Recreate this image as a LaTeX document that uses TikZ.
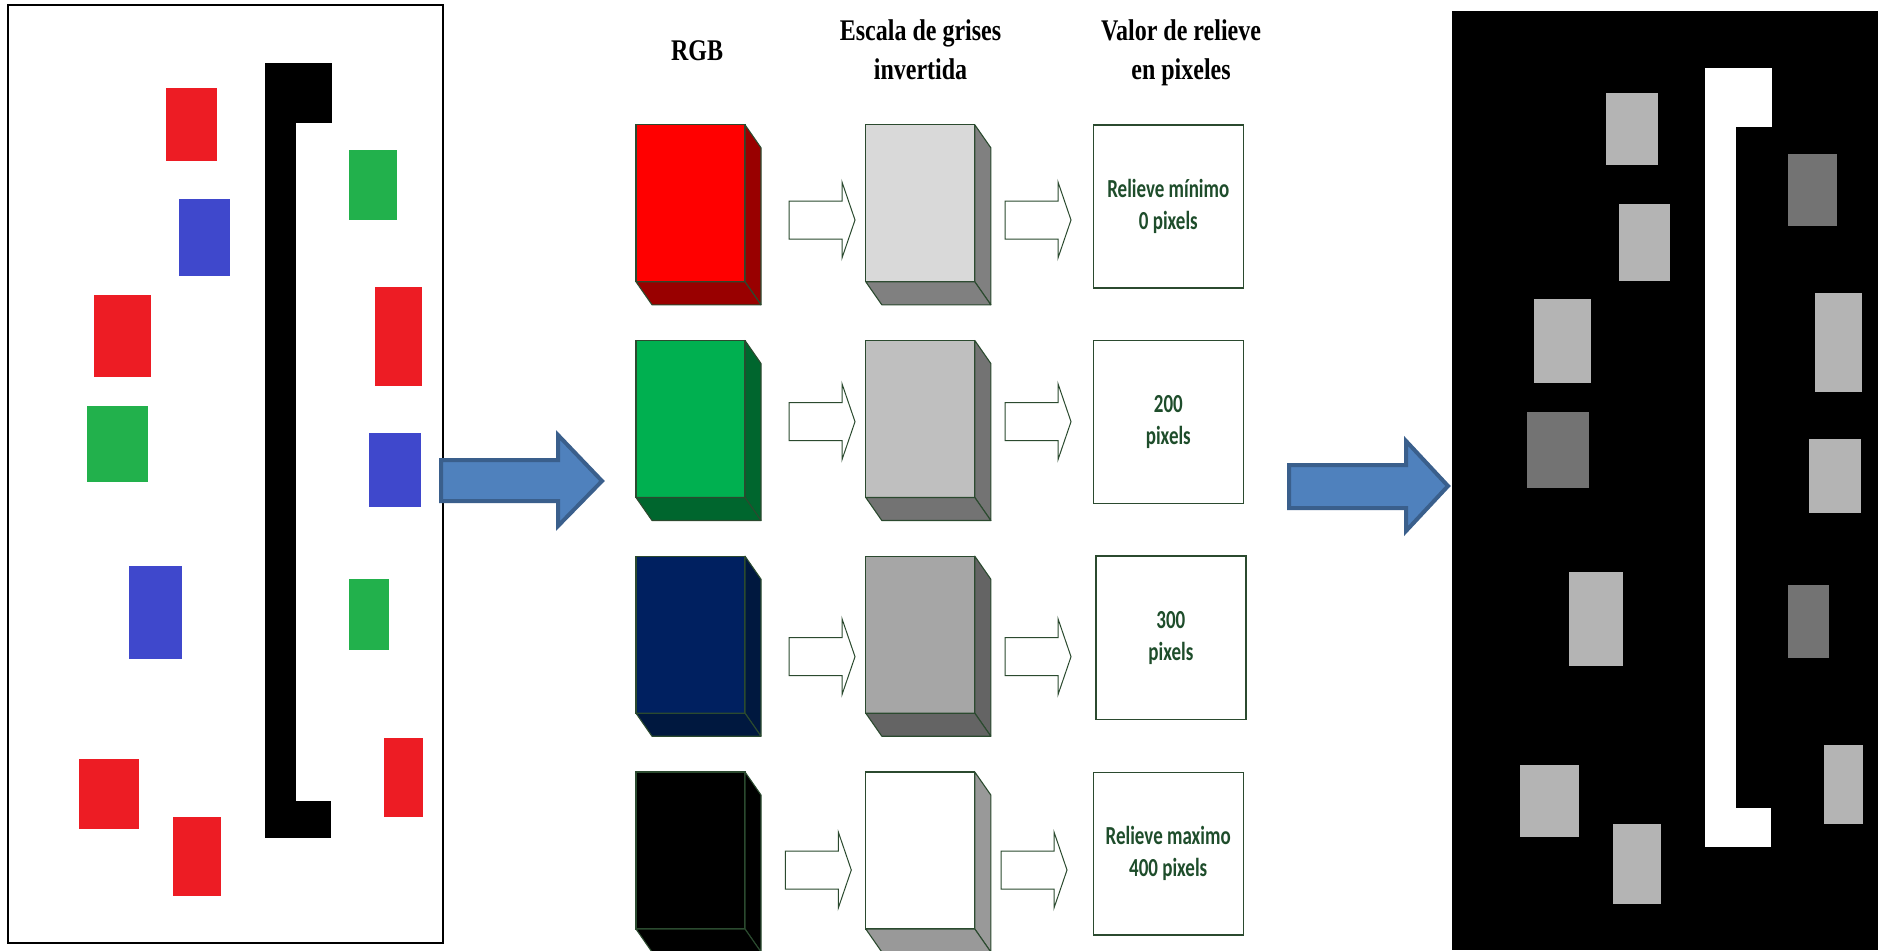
\documentclass[tikz,border=0pt]{standalone}
\usepackage{fontspec}
\usetikzlibrary{calc}
\newfontfamily\hdrfont[FakeStretch=0.8,BoldFont={Liberation Serif Bold}]{Liberation Serif}
\newfontfamily\boxfont[FakeStretch=0.73,BoldFont={Carlito Bold}]{Carlito}
\definecolor{redp}{HTML}{ED1C24}
\definecolor{bluep}{HTML}{3F48CC}
\definecolor{greenp}{HTML}{22B14C}
\definecolor{lgray}{HTML}{B4B4B4}
\definecolor{dgray}{HTML}{737373}
\definecolor{arrfill}{HTML}{4F81BD}
\definecolor{arrdraw}{HTML}{3A5F8C}
\definecolor{edgec}{HTML}{2B4A2F}
\definecolor{txtc}{HTML}{1E4D2B}
\definecolor{c1f}{HTML}{FF0000}\definecolor{c1s}{HTML}{990000}
\definecolor{c2f}{HTML}{00B050}\definecolor{c2s}{HTML}{00662E}
\definecolor{c3f}{HTML}{002060}\definecolor{c3s}{HTML}{00183F}
\definecolor{g1f}{HTML}{D9D9D9}\definecolor{g1s}{HTML}{808080}
\definecolor{g2f}{HTML}{BFBFBF}\definecolor{g2s}{HTML}{737373}
\definecolor{g3f}{HTML}{A6A6A6}\definecolor{g3s}{HTML}{646464}
\definecolor{g4f}{HTML}{FFFFFF}\definecolor{g4s}{HTML}{999999}
\tikzset{
  cubeface/.style={draw=edgec, line width=1.1pt, inner sep=0pt, outer sep=0pt, minimum width=109pt, minimum height=157pt},
  cubeedge/.style={draw=edgec, line width=1.1pt, line join=round},
  valbox/.style={draw=edgec, line width=1.2pt, fill=white, inner sep=0pt, outer sep=0pt, minimum width=150pt, align=center, text=txtc, font=\boxfont\bfseries\fontsize{26}{32}\selectfont},
  hdr/.style={align=center, inner sep=0pt, font=\hdrfont\bfseries\fontsize{30}{38.6}\selectfont},
  hollow/.style={draw=edgec, line width=1pt, fill=white},
  bigarrow/.style={draw=arrdraw, line width=4pt, fill=arrfill, line join=miter},
  panel/.style={inner sep=0pt, outer sep=0pt}
}
\newcommand\mycube[5]{%
  \node[cubeface, fill=#3] (#1) at (#2) {};
  \filldraw[cubeedge, fill=#4] (#1.north east) -- ++(16,23) -- ($(#1.south east)+(16,23)$) -- (#1.south east) -- cycle;
  \filldraw[cubeedge, fill=#4] (#1.south west) -- (#1.south east) -- ++(16,23) -- ($(#1.south west)+(16,23)$) -- cycle;
}
\newcommand\hollowarrow[2]{%
  \draw[hollow] (#1,#2) ++(0,-19) -- ++(53,0) -- ++(0,-19) -- ++(13,38) -- ++(-13,38) -- ++(0,-19) -- ++(-53,0) -- cycle;
}
\begin{document}
\begin{tikzpicture}[x=1pt,y=-1pt]
\useasboundingbox (0,0) rectangle (1878,950);
\clip (0,0) rectangle (1878,950);
\fill[white] (0,0) rectangle (1878,950);

% ---------- left panel (RGB image) ----------
\node[panel, draw=black, line width=2pt, minimum width=435pt, minimum height=938pt] (leftimg) at (225.5,474) {};
\fill[redp] (166,88) rectangle (217,161);
\fill[bluep] (179,199) rectangle (230,276);
\fill[redp] (94,295) rectangle (151,377);
\fill[greenp] (87,406) rectangle (148,482);
\fill[bluep] (129,566) rectangle (182,659);
\fill[redp] (79,759) rectangle (139,829);
\fill[redp] (173,817) rectangle (221,896);
\fill[greenp] (349,150) rectangle (397,220);
\fill[redp] (375,287) rectangle (422,386);
\fill[bluep] (369,433) rectangle (421,507);
\fill[greenp] (349,579) rectangle (389,650);
\fill[redp] (384,738) rectangle (423,817);
\fill[black] (265,63) rectangle (296,838);
\fill[black] (265,63) rectangle (332,123);
\fill[black] (265,801) rectangle (331,838);

% ---------- right panel (relief image) ----------
\node[panel, fill=black, minimum width=426pt, minimum height=939pt] (rightimg) at (1665,480.5) {};
\fill[lgray] (1606,93) rectangle (1658,165);
\fill[lgray] (1619,204) rectangle (1670,281);
\fill[lgray] (1534,299) rectangle (1591,383);
\fill[dgray] (1527,412) rectangle (1589,488);
\fill[lgray] (1569,572) rectangle (1623,666);
\fill[lgray] (1520,765) rectangle (1579,837);
\fill[lgray] (1613,824) rectangle (1661,904);
\fill[dgray] (1788,154) rectangle (1837,226);
\fill[lgray] (1815,293) rectangle (1862,392);
\fill[lgray] (1809,439) rectangle (1861,513);
\fill[dgray] (1788,585) rectangle (1829,658);
\fill[lgray] (1824,745) rectangle (1863,824);
\fill[white] (1705,68) rectangle (1736,847);
\fill[white] (1705,68) rectangle (1772,127);
\fill[white] (1705,808) rectangle (1771,847);

% ---------- big blue arrows ----------
\draw[bigarrow] (441,460) -- (558,460) -- (558,435) -- (602,481) -- (558,526) -- (558,501) -- (441,501) -- cycle;
\draw[bigarrow] (1289,465) -- (1406,465) -- (1406,441) -- (1448,486) -- (1406,531) -- (1406,508) -- (1289,508) -- cycle;

% ---------- headers ----------
\node[hdr, anchor=base] (hrgb) at (697,60) {RGB};
\node[hdr, anchor=base] (hgray) at (920.5,79.3) {Escala de grises\\invertida};
\node[hdr, anchor=base] (hval) at (1181,79.3) {Valor de relieve\\en pixeles};

% ---------- cubes ----------
\mycube{rgbA}{690.5,203.3}{c1f}{c1s}{}
\mycube{rgbB}{690.5,419}{c2f}{c2s}{}
\mycube{rgbC}{690.5,634.7}{c3f}{c3s}{}
\mycube{rgbD}{690.5,850.5}{black}{black}{}
\mycube{grayA}{920.3,203.3}{g1f}{g1s}{}
\mycube{grayB}{920.3,419}{g2f}{g2s}{}
\mycube{grayC}{920.3,634.7}{g3f}{g3s}{}
\mycube{grayD}{920.3,850.5}{g4f}{g4s}{}

% ---------- hollow arrows ----------
\hollowarrow{789}{220}
\hollowarrow{1005}{220}
\hollowarrow{789}{421.7}
\hollowarrow{1005}{421.7}
\hollowarrow{789}{656.7}
\hollowarrow{1005}{656.7}
\hollowarrow{785.3}{870}
\hollowarrow{1001}{870}

% ---------- value boxes ----------
\node[valbox, minimum height=163pt] (valA) at (1168.3,206.5) {Relieve mínimo\\0 pixels};
\node[valbox, minimum height=162.6pt] (valB) at (1168.3,422) {200\\pixels};
\node[valbox, minimum height=163.3pt] (valC) at (1170.9,637.7) {300\\pixels};
\node[valbox, minimum height=162.7pt] (valD) at (1168.2,853.7) {Relieve maximo\\400 pixels};
\end{tikzpicture}
\end{document}
